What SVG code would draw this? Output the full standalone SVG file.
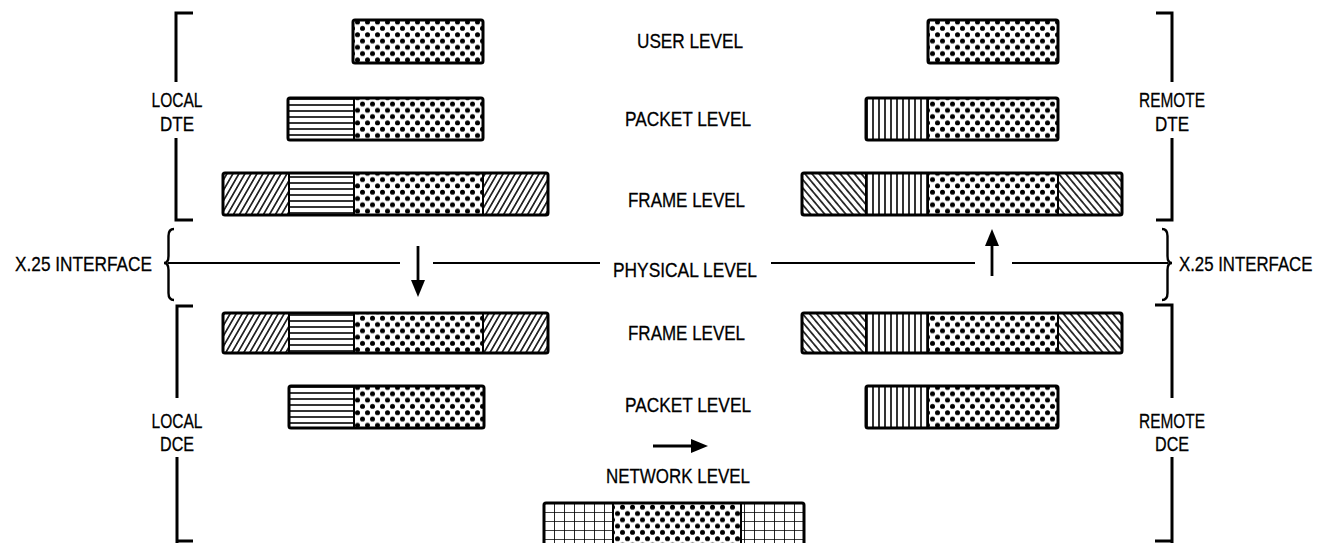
<svg xmlns="http://www.w3.org/2000/svg" width="1329" height="543" viewBox="0 0 1329 543">
<style>
.lbl{font-family:"Liberation Sans",Arial,sans-serif;font-size:21px;fill:#000;stroke:#000;stroke-width:0.3;text-anchor:middle}
.box{stroke:#000;stroke-width:3;fill:none}
.div{stroke:#000;stroke-width:2}
.br{stroke:#000;stroke-width:3;fill:none}
.ln{stroke:#000;stroke-width:2;fill:none}
.brc{stroke:#000;stroke-width:2.4;fill:none}
.sh{stroke:#000;stroke-width:2.8;fill:none}
</style>
<defs>
<pattern id="dots" width="10" height="12.6" patternUnits="userSpaceOnUse">
<rect width="10" height="12.6" fill="#fff"/>
<circle cx="2.5" cy="3.15" r="2.5" fill="#000"/>
<circle cx="7.5" cy="9.45" r="2.5" fill="#000"/>
</pattern>
<pattern id="hl" width="10" height="6" patternUnits="userSpaceOnUse">
<rect width="10" height="6" fill="#fff"/>
<line x1="0" y1="3" x2="10" y2="3" stroke="#000" stroke-width="1.6"/>
</pattern>
<pattern id="vl" width="6" height="10" patternUnits="userSpaceOnUse">
<rect width="6" height="10" fill="#fff"/>
<line x1="3" y1="0" x2="3" y2="10" stroke="#000" stroke-width="1.6"/>
</pattern>
<pattern id="fwd" width="5.2" height="10" patternUnits="userSpaceOnUse" patternTransform="rotate(30)">
<rect width="5.2" height="10" fill="#fff"/>
<line x1="2.6" y1="0" x2="2.6" y2="10" stroke="#000" stroke-width="1.5"/>
</pattern>
<pattern id="bck" width="5.4" height="10" patternUnits="userSpaceOnUse" patternTransform="rotate(-40)">
<rect width="5.4" height="10" fill="#fff"/>
<line x1="2.7" y1="0" x2="2.7" y2="10" stroke="#000" stroke-width="1.5"/>
</pattern>
<pattern id="grid" x="544" y="503" width="10" height="9" patternUnits="userSpaceOnUse">
<rect width="10" height="9" fill="#fff"/>
<path d="M0,0 V9 M0,0 H10" stroke="#000" stroke-width="1.7"/>
</pattern>
<marker id="ah" viewBox="0 0 17 14" markerWidth="17" markerHeight="14" markerUnits="userSpaceOnUse" refX="0" refY="7" orient="auto">
<path d="M0,0 L17,7 L0,14 z" fill="#000"/>
</marker>
</defs>
<rect width="1329" height="543" fill="#fff"/>

<!-- brackets and braces -->
<g id="bracket-local-dte">
<path class="br" d="M193,13 H176 V82 M176,138 V220 H193"/>
<text class="lbl" x="177" y="107" textLength="51" lengthAdjust="spacingAndGlyphs">LOCAL</text>
<text class="lbl" x="177" y="131" textLength="34" lengthAdjust="spacingAndGlyphs">DTE</text>
</g>
<g id="bracket-remote-dte">
<path class="br" d="M1156,13 H1172 V82 M1172,138 V220 H1156"/>
<text class="lbl" x="1172" y="107" textLength="66" lengthAdjust="spacingAndGlyphs">REMOTE</text>
<text class="lbl" x="1172" y="131" textLength="34" lengthAdjust="spacingAndGlyphs">DTE</text>
</g>
<g id="bracket-local-dce">
<path class="br" d="M193,306 H177 V398 M177,457 V545"/>
<path class="br" d="M177,541 H193"/>
<text class="lbl" x="177" y="428" textLength="51" lengthAdjust="spacingAndGlyphs">LOCAL</text>
<text class="lbl" x="177" y="451" textLength="34" lengthAdjust="spacingAndGlyphs">DCE</text>
</g>
<g id="bracket-remote-dce">
<path class="br" d="M1155,305 H1172 V398 M1172,457 V545"/>
<path class="br" d="M1172,541 H1155"/>
<text class="lbl" x="1172" y="428" textLength="66" lengthAdjust="spacingAndGlyphs">REMOTE</text>
<text class="lbl" x="1172" y="451" textLength="34" lengthAdjust="spacingAndGlyphs">DCE</text>
</g>
<g id="interface-left">
<path class="brc" d="M174,229 Q168.5,229 168.5,236 V256 Q168.5,263 164,263 Q168.5,263 168.5,270 V293 Q168.5,300 174,300"/>
<text class="lbl" x="15" y="271" style="text-anchor:start" textLength="137" lengthAdjust="spacingAndGlyphs">X.25 INTERFACE</text>
</g>
<g id="interface-right">
<path class="brc" d="M1162,229 Q1167.5,229 1167.5,236 V256 Q1167.5,263 1172,263 Q1167.5,263 1167.5,270 V293 Q1167.5,300 1162,300"/>
<text class="lbl" transform="translate(1179,271) scale(0.8,1)" x="0" y="0" style="text-anchor:start">X.25 INTERFACE</text>
</g>

<!-- level labels -->
<g id="labels">
<text class="lbl" x="690" y="48" textLength="106" lengthAdjust="spacingAndGlyphs">USER LEVEL</text>
<text class="lbl" x="688" y="126" textLength="126" lengthAdjust="spacingAndGlyphs">PACKET LEVEL</text>
<text class="lbl" x="686.5" y="207" textLength="117" lengthAdjust="spacingAndGlyphs">FRAME LEVEL</text>
<text class="lbl" x="685" y="277" textLength="144" lengthAdjust="spacingAndGlyphs">PHYSICAL LEVEL</text>
<text class="lbl" x="686.5" y="340" textLength="117" lengthAdjust="spacingAndGlyphs">FRAME LEVEL</text>
<text class="lbl" x="688" y="412" textLength="126" lengthAdjust="spacingAndGlyphs">PACKET LEVEL</text>
<text class="lbl" x="678" y="483" textLength="144" lengthAdjust="spacingAndGlyphs">NETWORK LEVEL</text>
</g>

<!-- upper left (local DTE) -->
<g id="ldte-user">
<rect x="353" y="20" width="130" height="43" fill="url(#dots)"/>
<rect class="box" x="353" y="20" width="130" height="43" rx="2"/>
</g>
<g id="ldte-packet">
<rect x="288" y="98" width="66" height="42" fill="url(#hl)"/>
<rect x="354" y="98" width="129" height="42" fill="url(#dots)"/>
<line class="div" x1="354" y1="98" x2="354" y2="140"/>
<rect class="box" x="288" y="98" width="195" height="42" rx="2"/>
</g>
<g id="ldte-frame">
<rect x="223" y="173" width="66" height="42" fill="url(#fwd)"/>
<rect x="289" y="173" width="65" height="42" fill="url(#hl)"/>
<rect x="354" y="173" width="129" height="42" fill="url(#dots)"/>
<rect x="483" y="173" width="65" height="42" fill="url(#fwd)"/>
<path class="div" d="M289,173 V215 M354,173 V215 M483,173 V215"/>
<rect class="box" x="223" y="173" width="325" height="42" rx="2"/>
</g>

<!-- upper right (remote DTE) -->
<g id="rdte-user">
<rect x="928" y="20" width="130" height="43" fill="url(#dots)"/>
<rect class="box" x="928" y="20" width="130" height="43" rx="2"/>
</g>
<g id="rdte-packet">
<rect x="866" y="98" width="62" height="42" fill="url(#vl)"/>
<rect x="928" y="98" width="130" height="42" fill="url(#dots)"/>
<line class="div" x1="928" y1="98" x2="928" y2="140"/>
<rect class="box" x="866" y="98" width="192" height="42" rx="2"/>
</g>
<g id="rdte-frame">
<rect x="802" y="173" width="64" height="42" fill="url(#bck)"/>
<rect x="866" y="173" width="62" height="42" fill="url(#vl)"/>
<rect x="928" y="173" width="130" height="42" fill="url(#dots)"/>
<rect x="1058" y="173" width="64" height="42" fill="url(#bck)"/>
<path class="div" d="M866,173 V215 M928,173 V215 M1058,173 V215"/>
<rect class="box" x="802" y="173" width="320" height="42" rx="2"/>
</g>

<!-- lower left (local DCE) -->
<g id="ldce-frame">
<rect x="223" y="313" width="66" height="40" fill="url(#fwd)"/>
<rect x="289" y="313" width="65" height="40" fill="url(#hl)"/>
<rect x="354" y="313" width="129" height="40" fill="url(#dots)"/>
<rect x="483" y="313" width="65" height="40" fill="url(#fwd)"/>
<path class="div" d="M289,313 V353 M354,313 V353 M483,313 V353"/>
<rect class="box" x="223" y="313" width="325" height="40" rx="2"/>
</g>
<g id="ldce-packet">
<rect x="289" y="386" width="65" height="42" fill="url(#hl)"/>
<rect x="354" y="386" width="130" height="42" fill="url(#dots)"/>
<line class="div" x1="354" y1="386" x2="354" y2="428"/>
<rect class="box" x="289" y="386" width="195" height="42" rx="2"/>
</g>

<!-- lower right (remote DCE) -->
<g id="rdce-frame">
<rect x="802" y="313" width="64" height="40" fill="url(#bck)"/>
<rect x="866" y="313" width="62" height="40" fill="url(#vl)"/>
<rect x="928" y="313" width="130" height="40" fill="url(#dots)"/>
<rect x="1058" y="313" width="64" height="40" fill="url(#bck)"/>
<path class="div" d="M866,313 V353 M928,313 V353 M1058,313 V353"/>
<rect class="box" x="802" y="313" width="320" height="40" rx="2"/>
</g>
<g id="rdce-packet">
<rect x="866" y="386" width="62" height="42" fill="url(#vl)"/>
<rect x="928" y="386" width="130" height="42" fill="url(#dots)"/>
<line class="div" x1="928" y1="386" x2="928" y2="428"/>
<rect class="box" x="866" y="386" width="192" height="42" rx="2"/>
</g>

<!-- network level -->
<g id="network">
<rect x="544" y="503" width="69" height="45" fill="url(#grid)"/>
<rect x="613" y="503" width="128" height="45" fill="url(#dots)"/>
<rect x="741" y="503" width="63" height="45" fill="url(#grid)"/>
<path class="div" d="M613,503 V548 M741,503 V548"/>
<rect class="box" x="544" y="503" width="260" height="45" rx="2"/>
</g>

<!-- connectors -->
<g id="connectors">
<path class="ln" d="M168,263 H400 M433,263 H600 M771,263 H975 M1012,263 H1168"/>
<line class="sh" x1="418" y1="246" x2="418" y2="280" marker-end="url(#ah)"/>
<line class="sh" x1="992" y1="276" x2="992" y2="246" marker-end="url(#ah)"/>
<line class="sh" x1="653" y1="446" x2="691" y2="446" marker-end="url(#ah)"/>
</g>
</svg>
